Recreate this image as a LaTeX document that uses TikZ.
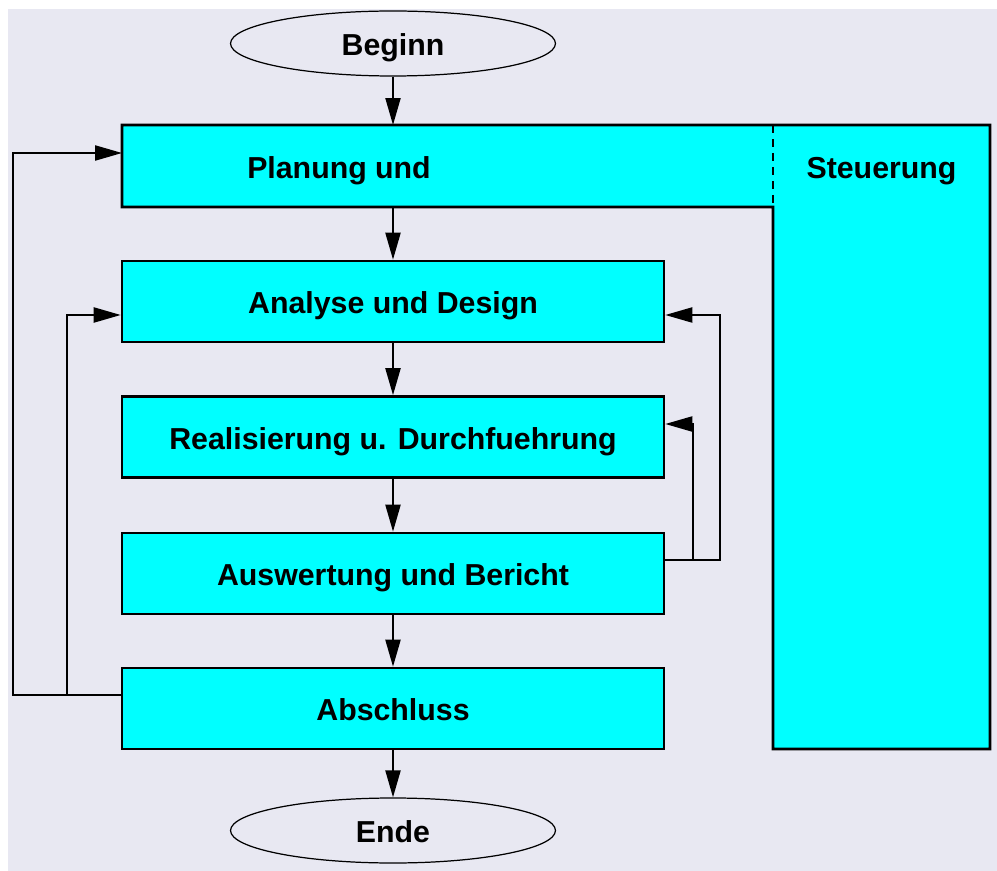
\documentclass[tikz,border=0pt]{standalone}
\usepackage{fontspec}
\setmainfont{Liberation Sans}
\usetikzlibrary{shapes.geometric, arrows.meta}
\definecolor{bgcol}{RGB}{232,232,242}
\definecolor{boxcol}{RGB}{0,255,255}

\begin{document}
\begin{tikzpicture}[x=0.02cm, y=-0.02cm,
        txt/.style={font=\fontsize{17.25}{20}\selectfont\bfseries, text height=1.48em, text depth=0.1em, inner sep=0pt},
        phase/.style={txt, draw, fill=boxcol, line width=1.5pt, minimum width=10.84cm, minimum height=1.62cm},
        terminal/.style={txt, ellipse, draw, line width=0.7pt, minimum width=6.5cm, minimum height=1.3cm},
        area/.style={inner sep=0pt, outer sep=0pt},
        flow/.style={line width=1.2pt, -{Triangle[length=0.54cm, width=0.3cm]}}]

        \useasboundingbox (0,0) rectangle (997,871);
        \fill[bgcol] (8,9) rectangle (997,871);

        % Planung und Steuerung as one L-shaped block
        \node[area, minimum width=13.02cm, minimum height=1.64cm] (planbox) at (447.5,166) {};
        \node[area, minimum width=4.34cm, minimum height=12.48cm] (steuerbox) at (881.5,437) {};
        \draw[fill=boxcol, line width=1.5pt] (planbox.north west) -- (steuerbox.north east) -- (steuerbox.south east)
            -- (steuerbox.south west) -- (planbox.south east) -- (planbox.south west) -- cycle;
        \draw[line width=1.2pt, dash pattern=on 0.16cm off 0.12cm] (planbox.north east) -- (planbox.south east);
        \node[txt] (plan) at (339,166) {Planung und};
        \node[txt] (steuer) at (881.5,166) {Steuerung};

        % Phases
        \node[terminal] (beginn) at (393,43.5) {Beginn};
        \node[phase] (analyse) at (393,301.5) {Analyse und Design};
        \node[phase] (realisierung) at (393,437) {Realisierung u. Durchfuehrung};
        \node[phase] (auswertung) at (393,573.5) {Auswertung und Bericht};
        \node[phase] (abschluss) at (393,708.5) {Abschluss};
        \node[terminal] (ende) at (393,830.5) {Ende};

        % Main flow
        \draw[flow] (beginn) -- (beginn |- planbox.north);
        \draw[flow] (analyse |- planbox.south) -- (analyse);
        \foreach \a/\b in {analyse/realisierung, realisierung/auswertung, auswertung/abschluss, abschluss/ende} {
            \draw[flow] (\a) -- (\b);
        }

        % Feedback loops
        \draw[flow] ([yshift=0.27cm]abschluss.west) -- ++(-108,0) |- ([yshift=0.26cm]planbox.west);
        \draw[flow] ([yshift=0.27cm]abschluss.west) ++(-54,0) |- ([yshift=-0.27cm]analyse.west);
        \draw[flow] ([yshift=0.27cm]auswertung.east) -- ++(55,0) |- ([yshift=-0.27cm]analyse.east);
        \draw[flow] ([yshift=0.27cm]auswertung.east) ++(28,0) |- ([yshift=0.26cm]realisierung.east);

    \end{tikzpicture}
\end{document}
